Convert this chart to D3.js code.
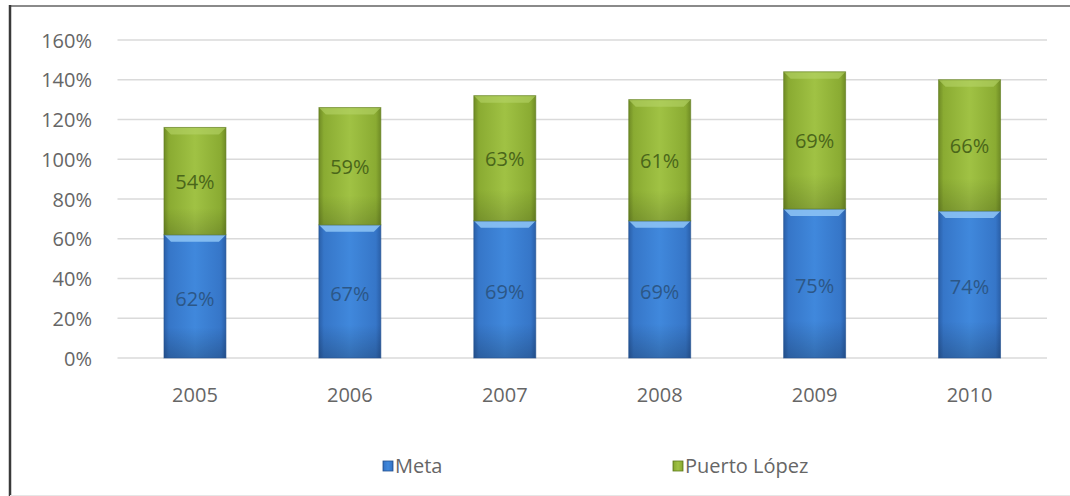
<!DOCTYPE html>
<html><head><meta charset="utf-8">
<script src="https://cdn.jsdelivr.net/npm/d3@7"></script>
<style>body{margin:0;background:#fff}svg{display:block}</style>
</head><body><svg id="c" width="1070" height="496"></svg>
<script>
const years = ["2005","2006","2007","2008","2009","2010"];
const meta = [62,67,69,69,75,74];
const puerto = [54,59,63,61,69,66];
const seriesNames = ["Meta","Puerto López"];
const yTicks = [0,20,40,60,80,100,120,140,160];

const svg = d3.select("#c");
const x = d3.scaleBand().domain(years).range([117.5,1047]).paddingInner(0.6).paddingOuter(0.3);
const y = d3.scaleLinear().domain([0,160]).range([358,40]);
const FONT = "Open Sans, sans-serif";

const defs = svg.append("defs");
function grad(id, stops){
  const g = defs.append("linearGradient").attr("id",id).attr("x1","0").attr("x2","1").attr("y1","0").attr("y2","0");
  stops.forEach(s=>g.append("stop").attr("offset",s[0]).attr("stop-color",s[1]));
}
grad("gBlue",[[0,"#2a5fa8"],[0.08,"#3676c8"],[0.5,"#4088dc"],[0.92,"#3676c8"],[1,"#2a5fa8"]]);
grad("gGreen",[[0,"#6f8b25"],[0.08,"#8aab32"],[0.5,"#a0c244"],[0.92,"#8aab32"],[1,"#6f8b25"]]);
function vgrad(id, stops){
  const g = defs.append("linearGradient").attr("id",id).attr("x1","0").attr("x2","0").attr("y1","0").attr("y2","1");
  stops.forEach(s=>g.append("stop").attr("offset",s[0]).attr("stop-color",s[1]).attr("stop-opacity",s[2]));
}
vgrad("shBlue",[[0,"#000",0],[0.75,"#000",0],[1,"#000",0.2]]);
vgrad("shGreen",[[0,"#000",0],[0.75,"#000",0],[1,"#000",0.15]]);

// frame
svg.append("line").attr("x1",10).attr("x2",1070).attr("y1",6).attr("y2",6).attr("stroke","#8a8a8a").attr("stroke-width",2);
svg.append("line").attr("x1",10).attr("x2",10).attr("y1",5).attr("y2",496).attr("stroke","#3a3a3a").attr("stroke-width",2.5);
svg.append("line").attr("x1",10).attr("x2",1070).attr("y1",495.5).attr("y2",495.5).attr("stroke","#e6e6e6").attr("stroke-width",1);

// gridlines
svg.append("g").selectAll("line").data(yTicks).join("line")
  .attr("x1",117.5).attr("x2",1047).attr("y1",d=>y(d)).attr("y2",d=>y(d))
  .attr("stroke","#dadada").attr("stroke-width",1.5);

// y axis labels
const yAxis = d3.axisLeft(y).tickValues(yTicks).tickFormat(d=>d+"%").tickSize(0).tickPadding(0);
const ya = svg.append("g").attr("transform","translate(92,0)").call(yAxis);
ya.select(".domain").remove();
ya.selectAll("text").attr("font-family",FONT).attr("font-size",20).attr("fill","#666").attr("dy","0.35em");

// x axis labels
const xAxis = d3.axisBottom(x).tickSize(0).tickPadding(0);
const xa = svg.append("g").attr("transform","translate(0,395)").call(xAxis);
xa.select(".domain").remove();
xa.selectAll("text").attr("font-family",FONT).attr("font-size",20).attr("fill","#666").attr("dy","0.35em");

// stacked data
const rows = years.map((yr,i)=>({year:yr, Meta:meta[i], "Puerto López":puerto[i]}));
const stack = d3.stack().keys(seriesNames)(rows);
const fills = ["url(#gBlue)","url(#gGreen)"];
const shades = ["url(#shBlue)","url(#shGreen)"];
const bevel = ["#8fc6f6","#b5d468"];
const bevelOp = [0.85,0.6];
const sideDark = ["#24528f","#5e7a1c"];
const labelCol = ["#2c5787","#4a661a"];

stack.forEach((s,si)=>{
  const g = svg.append("g");
  s.forEach(d=>{
    const x0 = x(d.data.year), w = x.bandwidth();
    const yt = y(d[1]), yb = y(d[0]), h = yb-yt;
    g.append("rect").attr("x",x0).attr("y",yt).attr("width",w).attr("height",h).attr("fill",fills[si]);
    g.append("rect").attr("x",x0).attr("y",yt).attr("width",w).attr("height",h).attr("fill",shades[si]);
    const b=7;
    g.append("path").attr("d",`M${x0},${yt}L${x0+w},${yt}L${x0+w-b},${yt+b}L${x0+b},${yt+b}Z`).attr("fill",bevel[si]).attr("opacity",bevelOp[si]);
    g.append("rect").attr("x",x0).attr("y",yt).attr("width",w).attr("height",h).attr("fill","none").attr("stroke",sideDark[si]).attr("stroke-width",1).attr("opacity",0.6);
    g.append("text").attr("x",x0+w/2).attr("y",(yt+yb)/2+(si===0?3:1)).attr("dy","0.35em")
      .attr("text-anchor","middle").attr("font-family",FONT).attr("font-size",20)
      .attr("fill",labelCol[si]).text((d[1]-d[0])+"%");
  });
});

// legend
const legX = [383,673];
const leg = svg.append("g");
seriesNames.forEach((n,i)=>{
  leg.append("rect").attr("x",legX[i]).attr("y",461).attr("width",10).attr("height",10).attr("fill",fills[i]).attr("stroke",sideDark[i]).attr("stroke-width",0.8);
  leg.append("text").attr("x",legX[i]+12).attr("y",466).attr("dy","0.35em").attr("font-family",FONT).attr("font-size",20).attr("fill","#666").text(n);
});
</script></body></html>
